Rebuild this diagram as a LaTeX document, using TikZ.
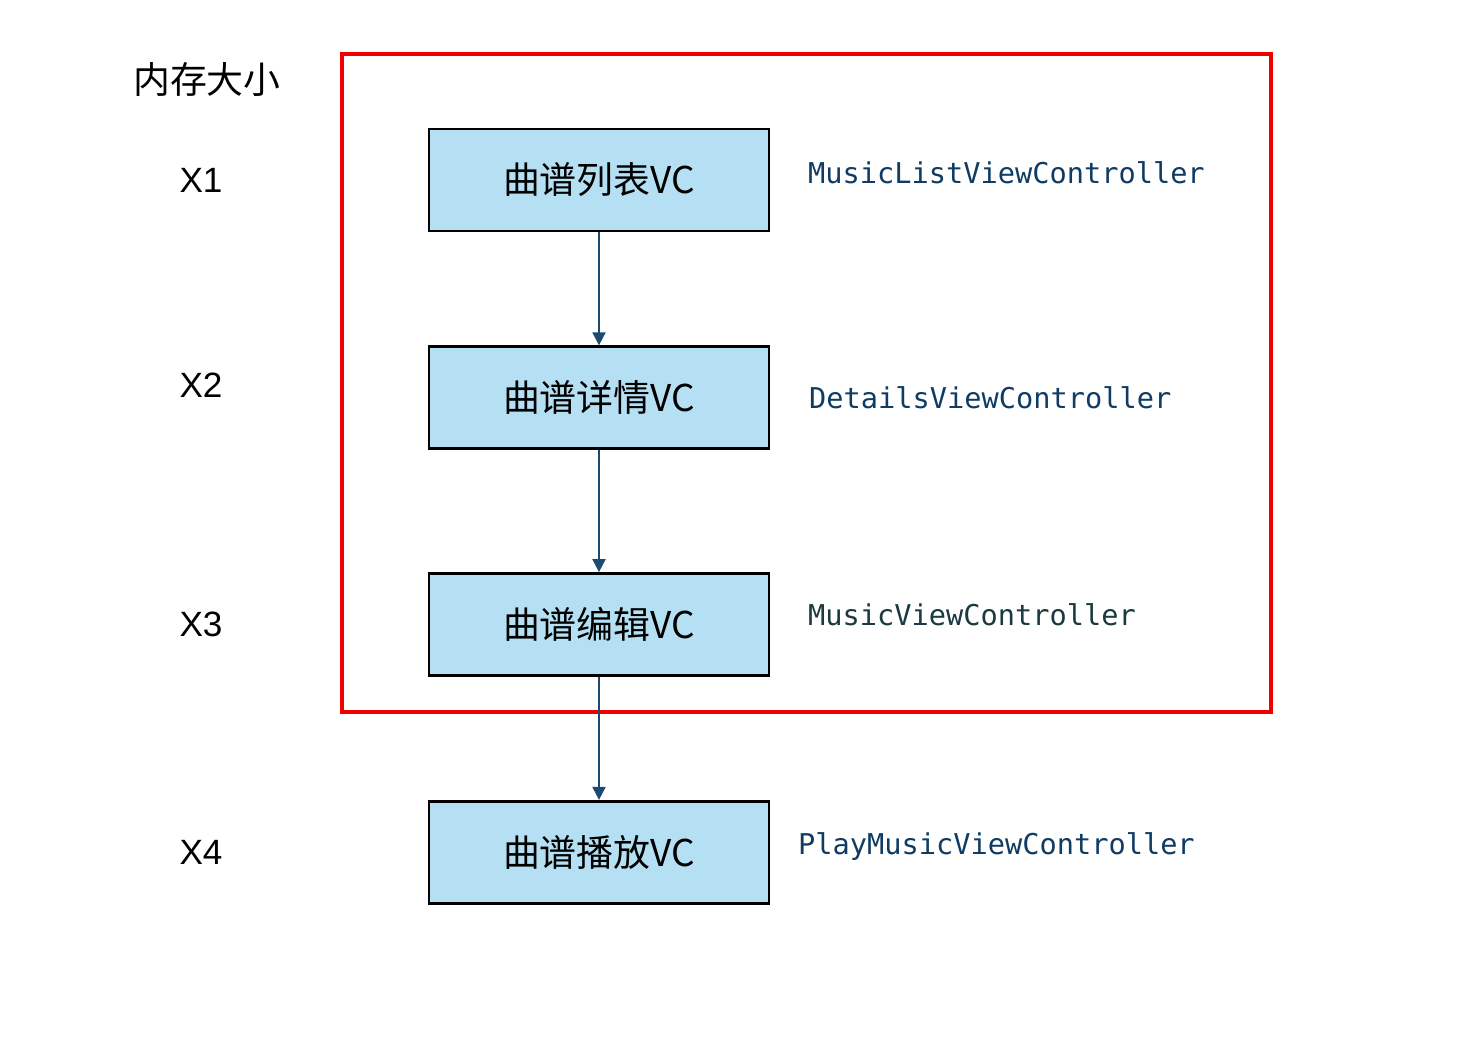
\documentclass[tikz,border=0pt]{standalone}
\usepackage{fontspec}
\setmainfont{Liberation Sans}
\newfontfamily\cjk{Noto Sans CJK SC}
\setmonofont{DejaVu Sans Mono}
\usepackage{xcolor}
\usepackage{tikz}
\usetikzlibrary{arrows.meta,positioning}

\definecolor{boxblue}{RGB}{181,224,243}
\definecolor{arrowblue}{RGB}{28,74,112}
\definecolor{codeblue}{RGB}{16,60,100}
\definecolor{codeteal}{RGB}{26,58,64}
\definecolor{framered}{RGB}{240,0,0}

\begin{document}
\begin{tikzpicture}[x=0.02cm,y=-0.02cm,
  vcbox/.style={draw=black,fill=boxblue,rectangle,minimum width=6.8cm,minimum height=2.04cm,line width=1.6pt,font=\cjk\fontsize{21}{24}\selectfont},
  cls/.style={anchor=west,font=\ttfamily\fontsize{16.3}{18}\selectfont,text=codeblue},
  mem/.style={font=\fontsize{20}{24}\selectfont},
  arr/.style={-{Triangle[length=2.6mm,width=2.6mm]},line width=1.1pt,arrowblue}
]
\useasboundingbox (0,0) rectangle (1482,1052);

% Memory column
\node[font=\cjk\fontsize{21}{24}\selectfont] (memlabel) at (207,80) {内存大小};
\node[mem] (x1) at (201,180) {X1};
\node[mem] (x2) at (201,385) {X2};
\node[mem] (x3) at (201,624) {X3};
\node[mem] (x4) at (201,852) {X4};

% View controllers
\node[vcbox] (vc1) at (599,180) {曲谱列表VC};
\node[vcbox,below=2.26cm of vc1] (vc2) {曲谱详情VC};
\node[vcbox,below=2.44cm of vc2] (vc3) {曲谱编辑VC};
\node[vcbox,below=2.46cm of vc3] (vc4) {曲谱播放VC};

% Class names
\node[cls] (c1) at (802,173) {MusicListViewController};
\node[cls] (c2) at (803,398) {DetailsViewController};
\node[cls,text=codeteal] (c3) at (802,615) {MusicViewController};
\node[cls] (c4) at (792,847) {PlayMusicViewController};

% Red frame
\draw[framered,line width=1.8pt] (342,54) rectangle (1271,712);

% Arrows
\draw[arr] (vc1) -- (vc2);
\draw[arr] (vc2) -- (vc3);
\draw[arr] (vc3) -- (vc4);

\end{tikzpicture}
\end{document}
